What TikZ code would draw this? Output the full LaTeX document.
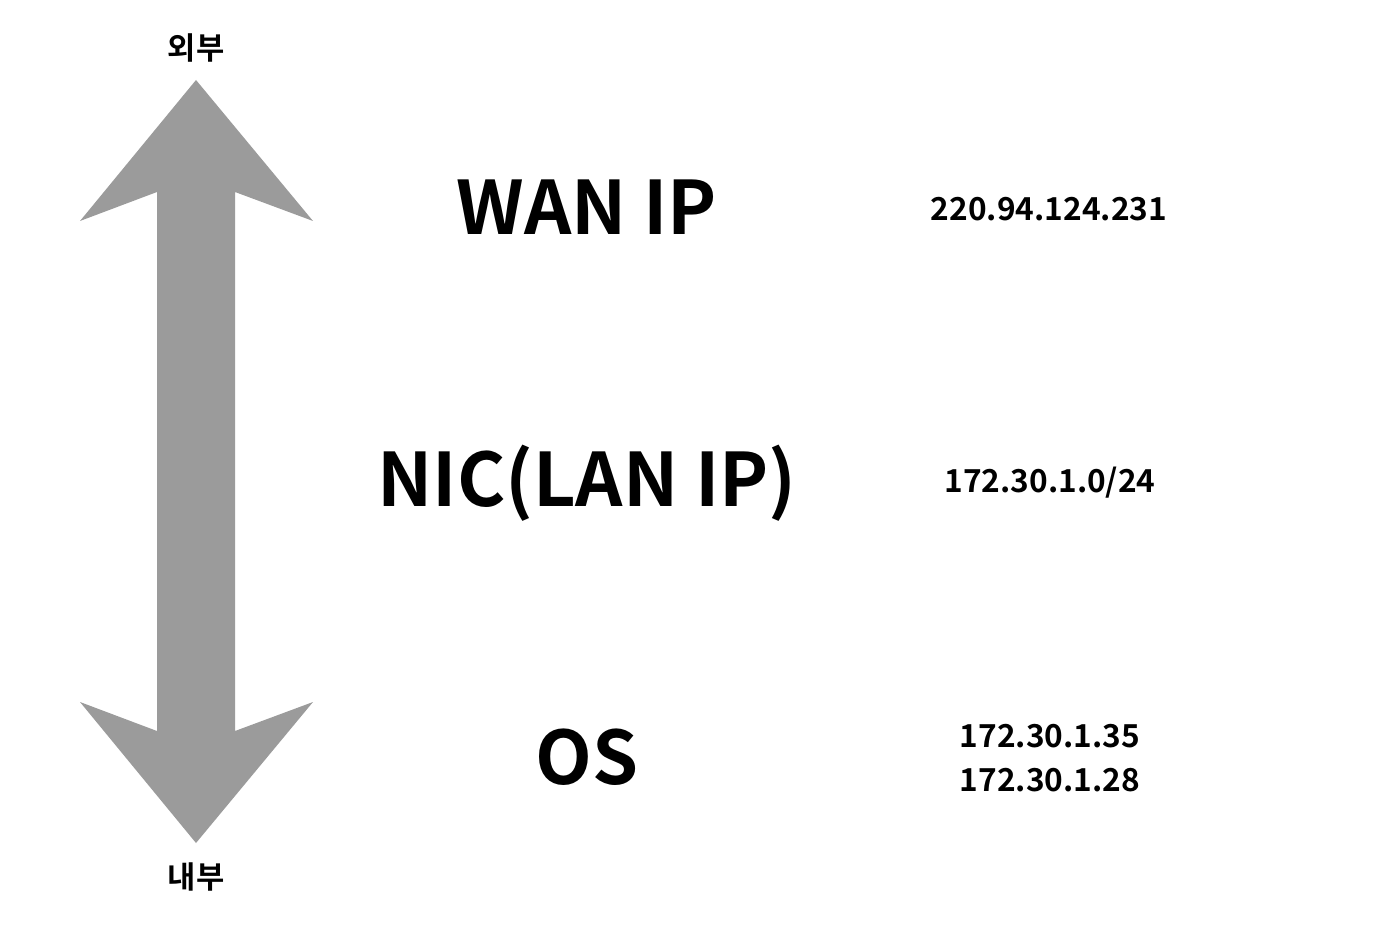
\documentclass[tikz,border=0pt]{standalone}
\usepackage{fontspec}
\setmainfont{Noto Sans CJK KR}[BoldFont={* Bold}]
\definecolor{arrowgray}{HTML}{9B9B9B}
\usetikzlibrary{positioning}

\begin{document}
\begin{tikzpicture}[x=0.02cm, y=-0.02cm,
    layer/.style={font=\bfseries\fontsize{42}{50}\selectfont, inner sep=0pt},
    addr/.style={font=\bfseries\fontsize{18}{24}\selectfont, inner sep=0pt, align=center},
    side/.style={font=\bfseries\fontsize{17.5}{22}\selectfont, inner sep=0pt}]
    \useasboundingbox (0,0) rectangle (1388,932);
    % Double arrow (outside <-> inside)
    \fill[arrowgray] (196,80) -- (313,221) -- (235,192) -- (235,731) -- (313,702)
        -- (196,843) -- (80,702) -- (157,731) -- (157,192) -- (80,221) -- cycle;
    \node[side] (outer) at (196,48) {외부};
    \node[side] (inner) at (196,877) {내부};
    % Layers
    \node[layer] (wan) at (587,207) {WAN IP};
    \node[layer] (nic) at (587,483) {NIC(LAN IP)};
    \node[layer] (os)  at (587,757) {OS};
    % Addresses
    \node[addr] (wanip) at (1049,209) {220.94.124.231};
    \node[addr] (lanip) at (1050,483) {172.30.1.0/24};
    \node[addr] (osip)  at (1050,758) {172.30.1.35\\[1pt]172.30.1.28};
\end{tikzpicture}
\end{document}
